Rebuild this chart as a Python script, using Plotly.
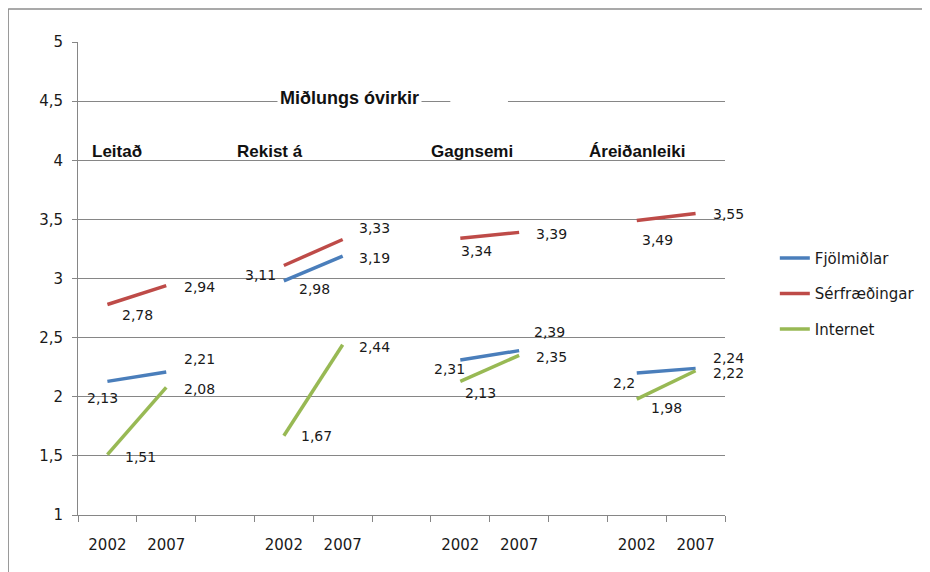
import plotly.graph_objects as go

# ---- data ----
x_labels = ["2002", "2007", "", "2002", "2007", "", "2002", "2007", "", "2002", "2007"]
groups = ["Leitað", "Rekist á", "Gagnsemi", "Áreiðanleiki"]
series_names = ["Fjölmiðlar", "Sérfræðingar", "Internet"]
fjolmidlar = [2.13, 2.21, None, 2.98, 3.19, None, 2.31, 2.39, None, 2.2, 2.24]
serfraedingar = [2.78, 2.94, None, 3.11, 3.33, None, 3.34, 3.39, None, 3.49, 3.55]
internet = [1.51, 2.08, None, 1.67, 2.44, None, 2.13, 2.35, None, 1.98, 2.22]
title_text = "Miðlungs óvirkir"

colors = ["#4A7EBB", "#BE4B48", "#98B954"]
values = [fjolmidlar, serfraedingar, internet]

# label pixel offsets (dx, dy-down) per point, styling only
offsets = [
    [(-5, 17), (33, -13), None, (31, 8), (32, 2), None, (-11, 9), (30, -19), None, (-13, 10), (33, -10)],
    [(30, 10), (33, 1), None, (-23, 10), (32, -11), None, (16, 13), (32, 2), None, (21, 19), (33, 1)],
    [(33, 2), (33, 2), None, (33, 0), (32, 2), None, (20, 12), (32, 2), None, (30, 9), (33, 2)],
]

xs = list(range(len(x_labels)))
fig = go.Figure()
for name, vals, col in zip(series_names, values, colors):
    fig.add_trace(go.Scatter(
        x=xs, y=vals, name=name, mode="lines",
        line=dict(color=col, width=3.5),
        connectgaps=False, legendgroup=name,
    ))

num_font = dict(family="DejaVu Sans", size=14, color="#1a1a1a")
annotations = []
for vals, offs in zip(values, offsets):
    for i, v in enumerate(vals):
        if v is None:
            continue
        dx, dy = offs[i]
        annotations.append(dict(
            x=i, y=v, xref="x", yref="y", text=f"{v:g}".replace(".", ","),
            showarrow=False, xshift=dx, yshift=-dy, font=num_font,
        ))

cat_font = dict(family="Liberation Sans", size=17, color="#111111")
group_pos = [0.17, 2.76, 6.2, 9.0]
for g, gx in zip(groups, group_pos):
    annotations.append(dict(x=gx, y=4.07, xref="x", yref="y", text=f"<b>{g}</b>",
                            showarrow=False, font=cat_font))
annotations.append(dict(x=4.12, y=4.53, xref="x", yref="y", text=f"<b>{title_text}</b>",
                        showarrow=False, font=dict(family="Liberation Sans", size=18, color="#111111"),
                        bgcolor="white", borderpad=2))

fig.update_layout(
    width=930, height=572,
    margin=dict(l=70, r=213, t=34, b=65),
    paper_bgcolor="white", plot_bgcolor="white",
    separators=", ",
    showlegend=True,
    legend=dict(x=1.077, y=0.468, xanchor="left", yanchor="middle",
                font=dict(family="DejaVu Sans", size=15, color="#1a1a1a"),
                tracegroupgap=13, bgcolor="rgba(0,0,0,0)"),
    annotations=annotations,
    shapes=[
        dict(type="line", xref="paper", yref="paper", x0=-0.108, x1=1.35, y0=1.0698, y1=1.0698,
             line=dict(color="#8c8c8c", width=1.5)),
        dict(type="line", xref="paper", yref="paper", x0=-0.108, x1=-0.108, y0=1.0698, y1=-0.2,
             line=dict(color="#8c8c8c", width=1.5)),
        dict(type="rect", xref="x", yref="y", x0=5.83, x1=6.81, y0=4.47, y1=4.53,
             fillcolor="white", line=dict(width=0), layer="above"),
    ],
)

fig.update_xaxes(
    range=[-0.5, 10.5], tickmode="array", tickvals=xs, ticktext=x_labels,
    ticks="", showgrid=False, zeroline=False,
    showline=True, linecolor="#868686", linewidth=1,
    tickfont=dict(family="DejaVu Sans", size=15, color="#1a1a1a"),
    ticklabelstandoff=16,
    minor=dict(tickmode="array", tickvals=[k - 0.5 for k in range(12)], ticks="outside",
               ticklen=6, tickcolor="#868686", tickwidth=1, showgrid=False),
)
fig.update_yaxes(
    range=[1, 5], dtick=0.5, tick0=1, showgrid=True, gridcolor="#868686", gridwidth=1,
    zeroline=False, showline=True, linecolor="#868686", linewidth=1,
    ticks="outside", ticklen=5, tickcolor="#868686",
    tickfont=dict(family="DejaVu Sans", size=15, color="#1a1a1a"),
    ticklabelstandoff=6,
)

fig.write_html("out.html")
